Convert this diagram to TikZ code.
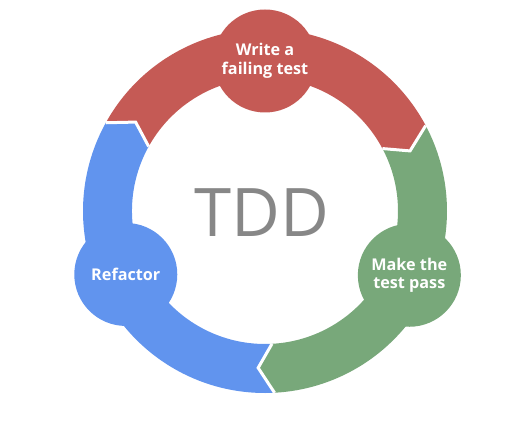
\documentclass[tikz,border=0pt]{standalone}
\usepackage{fontspec}
\setmainfont{Open Sans}
\definecolor{segred}{HTML}{C55A55}
\definecolor{seggreen}{HTML}{78A87A}
\definecolor{segblue}{HTML}{6194EE}
\definecolor{tddgray}{HTML}{878787}
\tikzset{
  gapline/.style={draw=white, line width=3pt, line cap=square, line join=miter},
  stepcircle/.style={circle, minimum size=103pt, inner sep=0pt, text=white, align=center,
    font={\bfseries\fontsize{16.2}{18.5}\selectfont}},
}
\begin{document}
\begin{tikzpicture}
\useasboundingbox (0,0) rectangle (512pt,434pt);
\begin{scope}[shift={(265pt,223pt)}]
% ring segments (clockwise)
\fill[segred] (151:182pt) arc[start angle=151,end angle=28,radius=182pt]
  -- (22.5:157pt) -- (28:133pt) arc[start angle=28,end angle=151,radius=133pt]
  -- (145.5:157pt) -- cycle;
\fill[seggreen] (28:182pt) arc[start angle=28,end angle=-87,radius=182pt]
  -- (-92.5:157pt) -- (-87:133pt) arc[start angle=-87,end angle=28,radius=133pt]
  -- (22.5:157pt) -- cycle;
\fill[segblue] (273:182pt) arc[start angle=273,end angle=151,radius=182pt]
  -- (145.5:157pt) -- (151:133pt) arc[start angle=151,end angle=273,radius=133pt]
  -- (267.5:157pt) -- cycle;
% white gaps
\draw[gapline] (28:182pt) -- (22.5:157pt) -- (28:133pt);
\draw[gapline] (-87:182pt) -- (-92.5:157pt) -- (-87:133pt);
\draw[gapline] (151:182pt) -- (145.5:157pt) -- (151:133pt);
% circles
\node[stepcircle, fill=segred] (write) at (90:150pt) {Write a\\failing test};
\node[stepcircle, fill=seggreen] (pass) at (-24:158pt) {Make the\\test pass};
\node[stepcircle, fill=segblue] (refactor) at (204.5:153pt) {Refactor};
\node[text=tddgray, font={\fontsize{67}{67}\selectfont}, inner sep=0pt] (tdd) at (-3pt,-1.5pt) {TDD};
\end{scope}
\end{tikzpicture}
\end{document}
